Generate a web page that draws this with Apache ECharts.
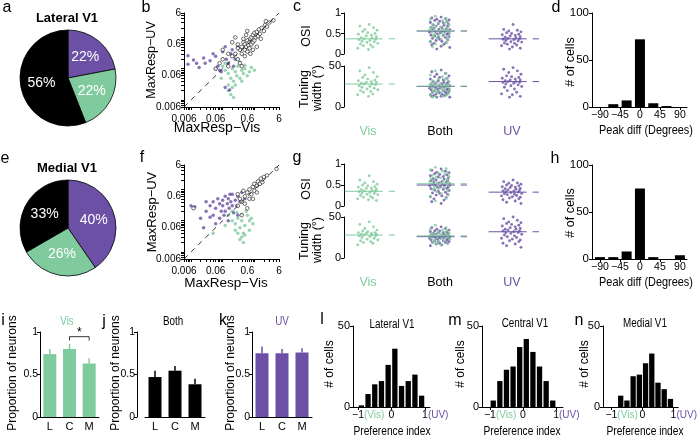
<!DOCTYPE html>
<html>
<head>
<meta charset="utf-8">
<script src="https://cdn.jsdelivr.net/npm/echarts@6/dist/echarts.min.js"></script>
<style>
html, body { margin: 0; padding: 0; background: #fff; }
#chart { width: 700px; height: 436px; }
</style>
</head>
<body>
<div id="chart"></div>
<script>
const GREEN = '#80cb9e';
const PURPLE = '#6b50a5';
const FONT = '"Liberation Sans", Arial, sans-serif';

// a / e : share of responsive cells
const pieNames = ['UV', 'Vis', 'Both'];
const lateralPct = [22, 22, 56];
const medialPct = [40, 26, 33];

// b / f : max response, [Vis, UV]
const bVis = [[0.1,0.12],[0.12,0.09],[0.15,0.07],[0.18,0.05],[0.2,0.1],[0.22,0.04],[0.25,0.08],[0.28,0.06],[0.3,0.12],[0.35,0.05],[0.4,0.09],[0.45,0.07],[0.5,0.1],[0.6,0.06],[0.7,0.08],[0.8,0.11],[0.15,0.02],[0.18,0.015],[0.2,0.025],[0.22,0.012],[0.25,0.03],[0.15,0.03],[0.12,0.15],[0.3,0.2],[0.35,0.16],[0.09,0.05],[0.4,0.04],[0.5,0.13],[1.0,0.09]];
const bUV = [[0.008,0.26],[0.008,0.14],[0.012,0.19],[0.015,0.15],[0.025,0.22],[0.028,0.15],[0.018,0.11],[0.04,0.18],[0.05,0.3],[0.06,0.25],[0.07,0.12],[0.08,0.09],[0.1,0.35],[0.12,0.5],[0.13,0.2],[0.15,0.15],[0.18,0.3],[0.2,0.4],[0.22,0.12],[0.25,0.2],[0.3,0.5],[0.12,0.025],[0.165,0.021],[0.09,0.08],[0.06,0.1]];
const bBoth = [[0.06,0.1],[0.08,0.15],[0.1,0.2],[0.15,0.12],[0.2,0.25],[0.25,0.3],[0.3,0.2],[0.3,0.6],[0.35,0.4],[0.4,0.5],[0.4,0.3],[0.45,0.7],[0.5,0.4],[0.5,0.6],[0.55,0.5],[0.6,0.8],[0.6,0.35],[0.65,0.55],[0.7,0.7],[0.7,0.45],[0.75,0.9],[0.8,0.6],[0.8,1.0],[0.9,0.7],[0.9,1.2],[1.0,0.8],[1.0,1.4],[1.1,1.0],[1.2,1.5],[1.3,1.1],[1.4,1.8],[1.5,1.3],[1.7,2.0],[2.0,1.6],[2.2,2.5],[2.5,2.2],[3.0,3.0],[4.0,3.5],[0.25,1.0],[0.2,0.7],[0.15,0.3],[0.35,0.15],[0.5,0.25],[0.45,0.9],[1.2,0.5],[0.9,0.4],[0.3,0.45],[0.55,1.2],[1.6,0.9],[2.3,3.3],[0.1,0.4],[0.6,1.6],[0.75,0.3],[0.4,0.12]];
const fVis = [[0.15,0.15],[0.2,0.1],[0.25,0.08],[0.3,0.12],[0.35,0.06],[0.4,0.1],[0.45,0.04],[0.5,0.07],[0.6,0.15],[0.7,0.1],[0.3,0.04],[0.35,0.025],[0.4,0.03],[0.45,0.02],[0.5,0.035],[0.25,0.05],[0.2,0.2],[0.7,0.05],[0.9,0.08],[0.05,0.04],[0.12,0.07],[0.55,0.2],[0.4,0.16],[0.28,0.18],[0.8,0.12]];
const fUV = [[0.01,0.3],[0.013,0.28],[0.02,0.12],[0.025,0.06],[0.03,0.2],[0.04,0.3],[0.05,0.4],[0.05,0.15],[0.06,0.25],[0.07,0.5],[0.08,0.35],[0.09,0.2],[0.1,0.45],[0.1,0.3],[0.12,0.6],[0.12,0.2],[0.14,0.35],[0.15,0.5],[0.16,0.25],[0.18,0.4],[0.2,0.3],[0.2,0.7],[0.22,0.18],[0.25,0.45],[0.28,0.3],[0.3,0.6],[0.35,0.4],[0.4,0.8],[0.08,0.12],[0.06,0.08],[0.15,0.1],[0.3,0.15],[0.04,0.13],[0.11,0.15],[0.5,0.5],[0.17,0.7],[0.03,0.4]];
const fBoth = [[0.012,0.25],[0.3,0.3],[0.35,0.5],[0.4,0.4],[0.5,0.6],[0.5,0.35],[0.6,0.8],[0.7,0.5],[0.7,1.0],[0.8,0.7],[0.9,1.2],[1.0,0.9],[1.0,1.5],[1.2,1.3],[1.3,1.8],[1.5,1.5],[1.6,2.2],[1.8,1.7],[2.0,2.5],[2.5,2.8],[5.0,4.5],[0.4,0.15],[0.6,0.25],[0.9,0.5],[1.2,0.8],[0.3,0.7],[0.45,0.9]];
const logLabels = [0.006, 0.06, 0.6, 6];
const logTicks = [0.006,0.007,0.008,0.009,0.01,0.02,0.03,0.04,0.05,0.06,0.07,0.08,0.09,0.1,0.2,0.3,0.4,0.5,0.6,0.7,0.8,0.9,1,2,3,4,5,6];

// c / g : OSI and tuning width per group
const cOsiVis = [0.72,0.68,0.64,0.6,0.58,0.55,0.52,0.5,0.48,0.46,0.44,0.42,0.4,0.39,0.37,0.36,0.35,0.33,0.31,0.3,0.28,0.26,0.24,0.22,0.2,0.17,0.14,0.11];
const cOsiBothUV = [0.9,0.88,0.86,0.85,0.83,0.82,0.8,0.79,0.77,0.76,0.74,0.73,0.71,0.7,0.68,0.67,0.65,0.64,0.63,0.61,0.6,0.59,0.58,0.56,0.55,0.54,0.53,0.52,0.5,0.49,0.48,0.46,0.45,0.44,0.42,0.41,0.4,0.38,0.36,0.35,0.33,0.31,0.3,0.28,0.26,0.24,0.22,0.19,0.16,0.12];
const cOsiBothVis = [0.92,0.87,0.84,0.81,0.78,0.76,0.74,0.72,0.7,0.68,0.66,0.65,0.63,0.62,0.6,0.59,0.57,0.56,0.55,0.53,0.52,0.5,0.48,0.47,0.45,0.43,0.41,0.39,0.37,0.34,0.31,0.28,0.25,0.21,0.17];
const cOsiUV = [0.72,0.6,0.58,0.56,0.54,0.52,0.5,0.48,0.47,0.45,0.44,0.42,0.41,0.39,0.38,0.37,0.36,0.35,0.33,0.32,0.3,0.29,0.27,0.26,0.24,0.22,0.2,0.17,0.14,0.12];
const cOsiMeans = [0.37, 0.56, 0.57, 0.37]; // Vis, Both(UV), Both(Vis), UV
const cTwVis = [48,44,42,39,37,36,34,33,32,31,30,30,29,28,28,27,26,25,24,23,22,21,20,19,18,16,15,13];
const cTwBothUV = [45,43,41,40,38,37,36,35,34,33,32,31,31,30,29,29,28,28,27,27,26,26,25,25,24,24,23,23,22,22,21,21,20,20,19,19,18,18,17,17,16,16,15,15,14,14,13,13,12,12];
const cTwBothVis = [44,41,39,37,35,34,33,32,31,30,29,28,27,27,26,26,25,25,24,23,23,22,21,21,20,19,19,18,17,16,15,14,13,13,12];
const cTwUV = [48,46,44,42,40,38,37,36,35,34,33,33,32,31,31,30,30,29,28,27,26,25,24,22,20,18,16,15,13,12];
const cTwMeans = [28, 25, 25.5, 31];
const gOsiVis = [0.72,0.62,0.58,0.55,0.52,0.5,0.48,0.46,0.45,0.43,0.42,0.4,0.39,0.37,0.36,0.35,0.34,0.32,0.31,0.3,0.28,0.27,0.25,0.23,0.21,0.19,0.17,0.15,0.13];
const gOsiBothUV = [0.88,0.85,0.83,0.8,0.79,0.77,0.75,0.74,0.72,0.7,0.69,0.67,0.65,0.64,0.62,0.61,0.6,0.58,0.57,0.56,0.55,0.53,0.52,0.51,0.5,0.49,0.48,0.46,0.45,0.44,0.42,0.41,0.4,0.38,0.37,0.35,0.33,0.31,0.3,0.28,0.26,0.24,0.22,0.2,0.17,0.14,0.1,0.06];
const gOsiBothVis = [0.92,0.89,0.86,0.83,0.8,0.78,0.75,0.73,0.71,0.69,0.67,0.65,0.63,0.61,0.6,0.58,0.56,0.55,0.53,0.52,0.5,0.48,0.46,0.44,0.42,0.4,0.37,0.34,0.3,0.26,0.22,0.18,0.12];
const gOsiUV = [0.62,0.58,0.55,0.54,0.52,0.5,0.49,0.48,0.46,0.45,0.44,0.42,0.41,0.4,0.38,0.37,0.36,0.35,0.34,0.33,0.32,0.3,0.29,0.28,0.27,0.25,0.24,0.22,0.21,0.19,0.17,0.15,0.12,0.09,0.06];
const gOsiMeans = [0.35, 0.5, 0.53, 0.33];
const gTwVis = [44,41,38,36,34,33,32,31,31,30,30,29,29,28,28,27,27,26,25,24,23,22,21,20,19,18,16];
const gTwBothUV = [38,37,36,35,34,33,33,32,32,31,31,30,30,29,29,28,28,27,27,27,26,26,26,25,25,25,24,24,23,23,22,22,21,21,20,20,19,19,18,18,17,16,15];
const gTwBothVis = [40,37,35,34,33,32,31,30,30,29,29,28,28,27,27,26,26,25,25,24,24,23,22,21,20,19,18,17,16];
const gTwUV = [50,48,46,44,43,42,41,40,39,38,37,36,35,35,34,33,33,32,31,31,30,29,28,27,26,25,24,23,22,21,20,18,17,15,13];
const gTwMeans = [28, 26, 27, 32];
const groups = ['Vis', 'Both', 'UV'];
// horizontal scatter of dots inside a column (hand typed)
const jitterA = [0.02,-0.11,0.08,-0.04,0.13,-0.07,0.0,0.1,-0.13,0.05,-0.02,0.12,-0.09,0.06,-0.05,0.11,-0.12,0.03,-0.08,0.09,-0.01,0.14,-0.1,0.04,-0.06,0.07,-0.14,0.01,0.12,-0.03,0.1,-0.12,0.05,-0.07,0.13,-0.02,0.08,-0.1,0.0,0.11,-0.05,0.03,-0.13,0.09,-0.08,0.06,-0.11,0.02,0.14,-0.04];
const jitterB = [-0.06,0.09,-0.13,0.04,0.11,-0.02,0.07,-0.1,0.13,-0.05,0.01,-0.12,0.1,-0.08,0.05,-0.14,0.12,-0.03,0.08,-0.11,0.03,0.14,-0.07,0.06,-0.01,-0.09,0.11,-0.04,0.02,0.12,-0.13,0.09,-0.06,0.04,-0.1];

// d / h : peak difference histograms
const peakBins = [-90, -60, -30, 0, 30, 60, 90];
const lateralPeak = [0, 3, 7, 72, 4, 1, 0];
const medialPeak = [2, 2, 8, 75, 2, 0, 4];
const peakTicks = [-90, -45, 0, 45, 90];

// i / j / k : proportion of neurons by region
const regions = ['L', 'C', 'M'];
const visProp = [0.74, 0.80, 0.63];
const visUpper = [0.80, 0.86, 0.69];
const bothProp = [0.47, 0.545, 0.385];
const bothUpper = [0.545, 0.60, 0.45];
const uvProp = [0.75, 0.75, 0.76];
const uvUpper = [0.83, 0.80, 0.81];

// l / m / n : preference index histograms
const prefBins = [-0.9, -0.7, -0.5, -0.3, -0.1, 0.1, 0.3, 0.5, 0.7, 0.9];
const lateralPref = [1, 8, 14, 16, 26, 36, 13, 16, 20, 7];
const centralPref = [4, 16, 23, 25, 37, 42, 34, 25, 16, 4];
const medialPref = [0, 7, 4, 19, 20, 27, 33, 15, 11, 5];
const prefTicks = [-1, 0, 1];

function merge(a, b) {
  const out = Object.assign({}, a);
  for (const k in b) {
    if (b[k] && typeof b[k] === 'object' && !Array.isArray(b[k]) && a[k] && typeof a[k] === 'object') out[k] = merge(a[k], b[k]);
    else out[k] = b[k];
  }
  return out;
}
function axis(gridIndex, o) {
  return merge({
    gridIndex,
    axisLine: { show: true, onZero: false, lineStyle: { color: '#000', width: 1 } },
    axisTick: { show: true, length: 3, lineStyle: { color: '#000', width: 1 } },
    axisLabel: { color: '#000', fontSize: 11, fontFamily: FONT, margin: 3, showMinLabel: true, showMaxLabel: true, hideOverlap: false },
    splitLine: { show: false }
  }, o);
}
// extra label-only axis laid over a main one
function labelAxis(gridIndex, type, min, max, values, label, pos) {
  return axis(gridIndex, { type, min, max, position: pos || 'bottom', offset: 0,
    axisLine: { show: false }, axisTick: { show: false },
    axisLabel: merge({ customValues: values }, label) });
}
function txt(x, y, text, o = {}) {
  return {
    type: 'text', x, y, rotation: o.rot || 0, scaleX: o.sx || 1, silent: true,
    style: {
      text, fill: o.color || '#000', fontSize: o.size || 12, fontFamily: FONT,
      fontWeight: o.weight || 'normal', align: 'center', verticalAlign: 'middle',
      textAlign: 'center', textVerticalAlign: 'middle'
    }
  };
}
const minus = v => (v < 0 ? '\u2212' + Math.abs(v) : String(v));
const logFmt = v => String(+Number(v).toPrecision(2));

const grids = [
  { left: 184, top: 13, width: 95, height: 94 },   // 0 b
  { left: 184, top: 165, width: 95, height: 94 },  // 1 f
  { left: 344, top: 13, width: 200, height: 41 },  // 2 c OSI
  { left: 344, top: 66, width: 200, height: 41 },  // 3 c width
  { left: 344, top: 164, width: 200, height: 42 }, // 4 g OSI
  { left: 344, top: 217, width: 200, height: 41 }, // 5 g width
  { left: 592, top: 13, width: 95, height: 94 },   // 6 d
  { left: 592, top: 165, width: 95, height: 94 },  // 7 h
  { left: 40, top: 332, width: 59, height: 85 },   // 8 i
  { left: 145, top: 332, width: 60, height: 85 },  // 9 j
  { left: 252, top: 332, width: 60, height: 85 },  // 10 k
  { left: 353, top: 326, width: 77, height: 81 },  // 11 l
  { left: 482, top: 326, width: 81, height: 81 },  // 12 m
  { left: 603, top: 326, width: 80, height: 81 }   // 13 n
];

const xAxes = [], yAxes = [], series = [];
function on(xi, yi, s) { series.push(Object.assign({ xAxisIndex: xi, yAxisIndex: yi }, s)); }

// log-log scatter panels
const LOG_MIN = 0.006, LOG_MAX = 6;
[[0, bVis, bUV, bBoth], [1, fVis, fUV, fBoth]].forEach(([g, vis, uv, both]) => {
  const logAx = {
    type: 'log', logBase: 10, min: LOG_MIN, max: LOG_MAX,
    axisLabel: { customValues: logLabels, formatter: logFmt, fontSize: 10 },
    axisTick: { customValues: logTicks }
  };
  const xi = xAxes.length, yi = yAxes.length;
  xAxes.push(axis(g, merge(logAx, { axisLabel: { margin: 7 } })));
  // y labels kept on their own axis so the corner label is not dropped
  yAxes.push(axis(g, merge(logAx, { axisLabel: { customValues: [0.06, 0.6, 6] } })));
  yAxes.push(labelAxis(g, 'log', LOG_MIN, LOG_MAX, [0.006], { formatter: logFmt, fontSize: 10 }, 'left'));
  on(xi, yi, { type: 'line', data: [[LOG_MIN, LOG_MIN], [LOG_MAX, LOG_MAX]], symbol: 'none', silent: true,
    lineStyle: { color: '#000', width: 0.8, type: [5, 5] } });
  on(xi, yi, { type: 'scatter', data: vis, symbolSize: 3.5, itemStyle: { color: GREEN } });
  on(xi, yi, { type: 'scatter', data: uv, symbolSize: 3.5, itemStyle: { color: PURPLE } });
  on(xi, yi, { type: 'scatter', data: both, symbol: 'circle', symbolSize: 3.6,
    itemStyle: { color: '#fff', borderColor: '#000', borderWidth: 0.7 } });
});

// strip plots
function strip(vals, cat, jit) { return vals.map((v, i) => [cat + jit[i % jit.length], v]); }
const stripSets = [
  [2, 1, [cOsiVis, cOsiBothUV, cOsiBothVis, cOsiUV], cOsiMeans],
  [3, 50, [cTwVis, cTwBothUV, cTwBothVis, cTwUV], cTwMeans],
  [4, 1, [gOsiVis, gOsiBothUV, gOsiBothVis, gOsiUV], gOsiMeans],
  [5, 50, [gTwVis, gTwBothUV, gTwBothVis, gTwUV], gTwMeans]
];
stripSets.forEach(([g, top, sets, means]) => {
  const xi = xAxes.length, yi = yAxes.length;
  xAxes.push(axis(g, { type: 'value', min: -0.33, max: 2.45, show: false }));
  yAxes.push(axis(g, { type: 'value', min: 0, max: top, interval: top === 50 ? 50 : 0.5 }));
  const cats = [0, 1, 1, 2];
  const cols = [GREEN, PURPLE, GREEN, PURPLE];
  const jits = [jitterA, jitterA, jitterB, jitterA];
  [0, 1, 2, 3].forEach(k => {
    on(xi, yi, { type: 'scatter', data: strip(sets[k], cats[k], jits[k]), symbolSize: 2.9, itemStyle: { color: cols[k] } });
  });
  [0, 1, 2, 3].forEach(k => {
    on(xi, yi, { type: 'line', symbol: 'none', silent: true,
      data: [[cats[k] - 0.32, means[k]], [cats[k] + 0.38, means[k]]],
      lineStyle: { color: cols[k], width: 1, type: [38, 6] } });
  });
});

// peak difference histograms
[[6, lateralPeak], [7, medialPeak]].forEach(([g, counts]) => {
  const xi = xAxes.length, yi = yAxes.length;
  const lab = { formatter: minus, fontSize: 10.5 };
  xAxes.push(axis(g, { type: 'value', min: -108, max: 106,
    axisLabel: merge(lab, { customValues: [-90, 0, 90] }), axisTick: { customValues: peakTicks } }));
  xAxes.push(labelAxis(g, 'value', -108, 106, [-45, 45], lab));
  yAxes.push(axis(g, { type: 'value', min: 0, max: 100, interval: 50, axisLabel: { fontSize: 11.5 } }));
  on(xi, yi, { type: 'bar', barWidth: 10, data: peakBins.map((b, i) => [b, counts[i]]), itemStyle: { color: '#000' } });
});

// proportion bars
function errRender(color) {
  return function (params, api) {
    const p0 = api.coord([api.value(0), api.value(1)]);
    const p1 = api.coord([api.value(0), api.value(2)]);
    return { type: 'line', shape: { x1: p0[0], y1: p0[1], x2: p1[0], y2: p1[1] }, style: { stroke: color, lineWidth: 1.5 } };
  };
}
[[8, visProp, visUpper, GREEN, 0], [9, bothProp, bothUpper, '#000', 8], [10, uvProp, uvUpper, PURPLE, 0]].forEach(([g, vals, upper, color, off]) => {
  const xi = xAxes.length, yi = yAxes.length;
  xAxes.push(axis(g, { type: 'category', data: regions, axisTick: { show: false },
    axisLabel: { fontSize: 11, margin: 4 } }));
  yAxes.push(axis(g, { type: 'value', min: 0, max: 1, interval: 0.5, offset: off,
    axisLabel: { fontSize: 10.5, margin: 2 } }));
  on(xi, yi, { type: 'bar', data: vals, barWidth: 13, itemStyle: { color } });
  on(xi, yi, { type: 'custom', renderItem: errRender(color), silent: true, data: vals.map((v, i) => [i, v, upper[i]]) });
  if (g === 8) {
    // significance bracket C vs M
    on(xi, yi, { type: 'custom', silent: true, data: [[1, 2, 0.945, 0.9]],
      renderItem: (params, api) => {
        const a = api.coord([api.value(0), api.value(3)]);
        const b = api.coord([api.value(0), api.value(2)]);
        const c = api.coord([api.value(1), api.value(2)]);
        const d = api.coord([api.value(1), api.value(3)]);
        return { type: 'group', children: [
          { type: 'polyline', shape: { points: [a, b, c, d] }, style: { stroke: '#000', lineWidth: 0.8, fill: null } },
          { type: 'text', x: (b[0] + c[0]) / 2, y: b[1] - 4, style: { text: '*', fontSize: 12, fontFamily: FONT, fill: '#000', align: 'center', verticalAlign: 'middle' } }
        ] };
      } });
  }
});

// preference index histograms
const prefFmt = v => v === -1 ? '{h|(Vis)}{k|\u22121}{g|(Vis)}' : v === 1 ? '{h|(UV)}{k|1}{p|(UV)}' : '{k|0}';
const prefRich = { k: { color: '#000', fontSize: 10.5 }, g: { color: GREEN, fontSize: 10 },
  p: { color: PURPLE, fontSize: 10 }, h: { color: 'rgba(0,0,0,0)', fontSize: 10 } };
[[11, lateralPref], [12, centralPref], [13, medialPref]].forEach(([g, counts]) => {
  const lim = g === 12 ? [-1.24, 1.21] : g === 13 ? [-1.27, 1.15] : [-1.15, 1.15];
  const xi = xAxes.length, yi = yAxes.length;
  const lab = { formatter: prefFmt, fontSize: 10.5, rich: prefRich };
  xAxes.push(axis(g, { type: 'value', min: lim[0], max: lim[1],
    axisLabel: merge(lab, { customValues: [0] }), axisTick: { customValues: prefTicks } }));
  xAxes.push(labelAxis(g, 'value', lim[0], lim[1], [-1, 1], lab));
  yAxes.push(axis(g, { type: 'value', min: 0, max: 50, interval: 50, axisLabel: { fontSize: 11 } }));
  on(xi, yi, { type: 'bar', barWidth: 5.3, data: prefBins.map((b, i) => [b, counts[i]]), itemStyle: { color: '#000' } });
});

// pies
[[[68, 78], lateralPct], [[68, 228], medialPct]].forEach(([center, pct]) => {
  series.push({ type: 'pie', center, radius: 48, startAngle: 90, clockwise: true, silent: true,
    data: pieNames.map((n, i) => ({ name: n, value: pct[i], itemStyle: { color: [PURPLE, GREEN, '#000'][i] } })),
    itemStyle: { borderColor: '#000', borderWidth: 0.8 },
    label: { position: 'inside', formatter: p => p.value + '%', color: '#fff', fontSize: 14, fontFamily: FONT },
    labelLine: { show: false } });
});

const V = Math.PI / 2;
const texts = [
  // panel letters
  txt(7, 8, 'a', { size: 16 }), txt(146, 8, 'b', { size: 16 }), txt(297, 7, 'c', { size: 16 }), txt(556, 8, 'd', { size: 16 }),
  txt(5, 159, 'e', { size: 16 }), txt(142, 158, 'f', { size: 16 }), txt(297, 158, 'g', { size: 16 }), txt(555, 159, 'h', { size: 16 }),
  txt(3, 321, 'i', { size: 16 }), txt(104, 322, 'j', { size: 16 }), txt(223, 321, 'k', { size: 16 }),
  txt(322, 320, 'l', { size: 16 }), txt(455, 321, 'm', { size: 16 }), txt(579, 321, 'n', { size: 16 }),
  // pies
  txt(67, 18, 'Lateral V1', { size: 13, weight: 'bold' }), txt(67, 168, 'Medial V1', { size: 13, weight: 'bold' }),
  // scatter
  txt(152, 60, 'MaxResp\u2212UV', { size: 12.5, rot: V }), txt(217, 128, 'MaxResp\u2212Vis', { size: 14 }),
  txt(152, 212, 'MaxResp\u2212UV', { size: 13, rot: V }), txt(226, 283, 'MaxResp\u2212Vis', { size: 13.5 }),
  // strips
  txt(307, 36, 'OSI', { size: 12.5, rot: V }), txt(305, 89, 'Tuning', { size: 12.5, rot: V }),
  txt(318, 88, 'width (\u00b0)', { size: 12.5, rot: V }),
  txt(307, 189, 'OSI', { size: 12.5, rot: V }), txt(305, 241, 'Tuning', { size: 12.5, rot: V }),
  txt(318, 240, 'width (\u00b0)', { size: 12.5, rot: V }),
  txt(368, 132, groups[0], { size: 12.5, color: GREEN }), txt(440, 132, groups[1], { size: 12.5 }), txt(512, 132, groups[2], { size: 12.5, color: PURPLE }),
  txt(368, 283, groups[0], { size: 12.5, color: GREEN }), txt(440, 283, groups[1], { size: 12.5 }), txt(512, 283, groups[2], { size: 12.5, color: PURPLE }),
  // peak diff
  txt(571, 62, '# of cells', { size: 12.5, rot: V }), txt(646, 130, 'Peak diff (Degrees)', { size: 13, sx: 0.84 }),
  txt(571, 213, '# of cells', { size: 12.5, rot: V }), txt(646, 282, 'Peak diff (Degrees)', { size: 13, sx: 0.84 }),
  // proportions
  txt(67, 322, 'Vis', { size: 12, color: GREEN, sx: 0.82 }), txt(173, 322, 'Both', { size: 12, sx: 0.82 }),
  txt(282, 322, 'UV', { size: 12, color: PURPLE, sx: 0.82 }),
  txt(13, 373, 'Proportion of neurons', { size: 12, rot: V }), txt(116, 373, 'Proportion of neurons', { size: 12, rot: V }),
  txt(231, 373, 'Proportion of neurons', { size: 12, rot: V }),
  // preference
  txt(392, 325, 'Lateral V1', { size: 12, sx: 0.82 }), txt(525, 324, 'Central V1', { size: 12, sx: 0.82 }),
  txt(645, 324, 'Medial V1', { size: 12, sx: 0.82 }),
  txt(330, 364, '# of cells', { size: 12, rot: V }), txt(461, 364, '# of cells', { size: 12, rot: V }),
  txt(585, 364, '# of cells', { size: 12, rot: V }),
  txt(392, 432, 'Preference index', { size: 12, sx: 0.85 }), txt(522, 432, 'Preference index', { size: 12, sx: 0.85 }),
  txt(645, 432, 'Preference index', { size: 12, sx: 0.85 })
];

const chart = echarts.init(document.getElementById('chart'), null, { renderer: 'canvas' });
chart.setOption({
  backgroundColor: '#fff',
  animation: false,
  textStyle: { fontFamily: FONT },
  grid: grids,
  xAxis: xAxes,
  yAxis: yAxes,
  series,
  graphic: texts
});
window.onresize = () => chart.resize();
</script>
</body>
</html>
